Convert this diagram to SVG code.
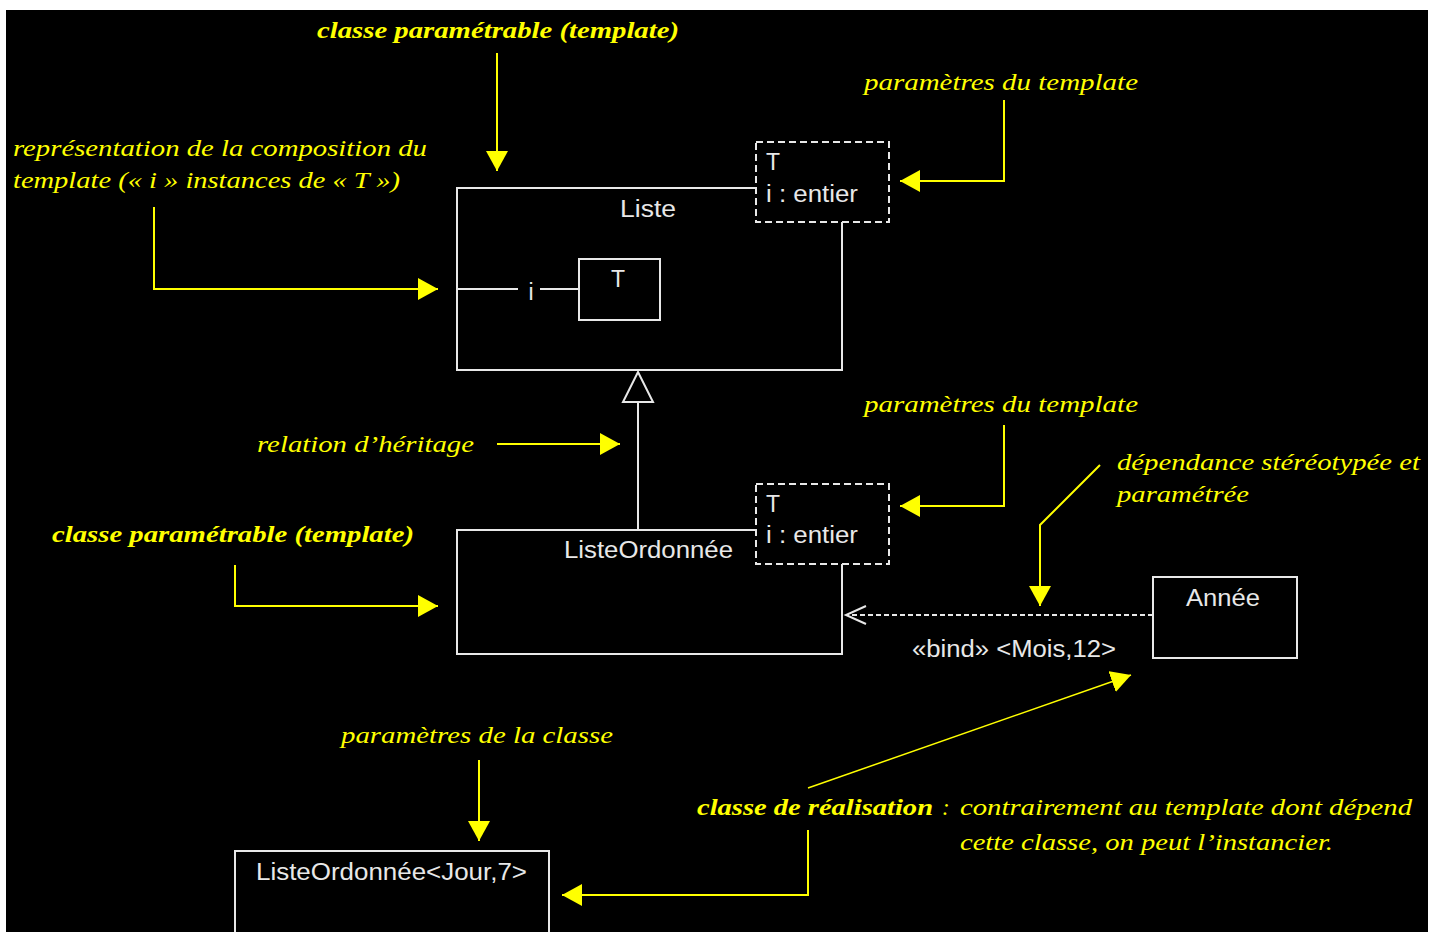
<svg xmlns="http://www.w3.org/2000/svg" width="1435" height="932" viewBox="0 0 1435 932">
<style>
.w{font-family:"Liberation Sans","DejaVu Sans",sans-serif;font-size:23px;fill:#e8e8e8}
.y{font-family:"Liberation Serif","DejaVu Serif",serif;font-style:italic;font-size:23px;fill:#ffff00}
.yb{font-family:"Liberation Serif","DejaVu Serif",serif;font-style:italic;font-weight:bold;font-size:23px;fill:#ffff00}
.box{fill:none;stroke:#e8e8e8;stroke-width:2}
.dash{fill:none;stroke:#e8e8e8;stroke-width:2;stroke-dasharray:7 4}
.ya{fill:none;stroke:#ffff00;stroke-width:2;marker-end:url(#ah)}
</style>
<defs>
<marker id="ah" viewBox="0 0 20 22" refX="20" refY="11" markerWidth="20" markerHeight="22" markerUnits="userSpaceOnUse" orient="auto">
<path d="M0,0 L20,11 L0,22 z" fill="#ffff00"/>
</marker>
</defs>
<rect x="0" y="0" width="1435" height="932" fill="#ffffff"/>
<rect x="6" y="10" width="1422" height="922" fill="#000000"/>

<g id="liste">
<path class="box" d="M756,188 H457 V370 H842 V222"/>
<text class="w" x="620" y="217" textLength="56" lengthAdjust="spacingAndGlyphs">Liste</text>
<line class="box" x1="457" y1="289" x2="518" y2="289"/>
<text class="w" x="531" y="300" text-anchor="middle">i</text>
<line class="box" x1="540" y1="289" x2="579" y2="289"/>
</g>
<g id="liste-params">
<rect class="dash" x="756" y="142" width="133" height="80"/>
<text class="w" x="766" y="170">T</text>
<text class="w" x="766" y="202" textLength="92" lengthAdjust="spacingAndGlyphs">i : entier</text>
</g>
<g id="T-part">
<rect class="box" x="579" y="259" width="81" height="61"/>
<text class="w" x="618" y="287" text-anchor="middle">T</text>
</g>

<g id="listeordonnee">
<path class="box" d="M756,530 H457 V654 H842 V564"/>
<text class="w" x="564" y="558" textLength="169" lengthAdjust="spacingAndGlyphs">ListeOrdonnée</text>
</g>
<g id="listeordonnee-params">
<rect class="dash" x="756" y="484" width="133" height="80"/>
<text class="w" x="766" y="512">T</text>
<text class="w" x="766" y="543" textLength="92" lengthAdjust="spacingAndGlyphs">i : entier</text>
</g>
<g id="annee">
<rect class="box" x="1153" y="577" width="144" height="81"/>
<text class="w" x="1186" y="606" textLength="74" lengthAdjust="spacingAndGlyphs">Année</text>
</g>
<g id="listeordonnee-jour">
<rect class="box" x="235" y="851" width="314" height="90"/>
<text class="w" x="256" y="880" textLength="271" lengthAdjust="spacingAndGlyphs">ListeOrdonnée&lt;Jour,7&gt;</text>
</g>

<g id="connectors">
<line class="box" x1="638" y1="402" x2="638" y2="530"/>
<path class="box" d="M638,372 L653,402 L623,402 z"/>
<line class="dash" x1="1153" y1="615" x2="848" y2="615" style="stroke-dasharray:5 3"/>
<path class="box" d="M866,606 L846,615 L866,624"/>
<text class="w" x="912" y="657" textLength="204" lengthAdjust="spacingAndGlyphs">«bind» &lt;Mois,12&gt;</text>
</g>

<g id="annotations">
<text class="yb" x="317" y="38" textLength="362" lengthAdjust="spacingAndGlyphs">classe paramétrable (template)</text>
<line class="ya" x1="497" y1="53" x2="497" y2="171"/>

<text class="y" x="864" y="90" textLength="274" lengthAdjust="spacingAndGlyphs">paramètres du template</text>
<path class="ya" d="M1004,100 V181 H900"/>

<text class="y" x="13" y="156" textLength="414" lengthAdjust="spacingAndGlyphs">représentation de la composition du</text>
<text class="y" x="13" y="188" textLength="387" lengthAdjust="spacingAndGlyphs">template (« i » instances de « T »)</text>
<path class="ya" d="M154,207 V289 H438"/>

<text class="y" x="257" y="452" textLength="217" lengthAdjust="spacingAndGlyphs">relation d’héritage</text>
<line class="ya" x1="497" y1="444" x2="620" y2="444"/>

<text class="yb" x="52" y="542" textLength="362" lengthAdjust="spacingAndGlyphs">classe paramétrable (template)</text>
<path class="ya" d="M235,565 V606 H438"/>

<text class="y" x="864" y="412" textLength="274" lengthAdjust="spacingAndGlyphs">paramètres du template</text>
<path class="ya" d="M1004,425 V506 H900"/>

<text class="y" x="1117" y="470" textLength="303" lengthAdjust="spacingAndGlyphs">dépendance stéréotypée et</text>
<text class="y" x="1117" y="502" textLength="132" lengthAdjust="spacingAndGlyphs">paramétrée</text>
<path class="ya" d="M1100,465 L1040,525 V606"/>

<text class="y" x="341" y="743" textLength="272" lengthAdjust="spacingAndGlyphs">paramètres de la classe</text>
<line class="ya" x1="479" y1="760" x2="479" y2="841"/>

<text class="yb" x="697" y="815" textLength="236" lengthAdjust="spacingAndGlyphs">classe de réalisation</text>
<text class="y" x="942" y="815">:</text>
<text class="y" x="960" y="815" textLength="452" lengthAdjust="spacingAndGlyphs">contrairement au template dont dépend</text>
<text class="y" x="960" y="850" textLength="373" lengthAdjust="spacingAndGlyphs">cette classe, on peut l’instancier.</text>
<line class="ya" x1="808" y1="788" x2="1131" y2="675" style="stroke-width:1.5"/>
<path class="ya" d="M808,830 V895 H562"/>
</g>
</svg>
